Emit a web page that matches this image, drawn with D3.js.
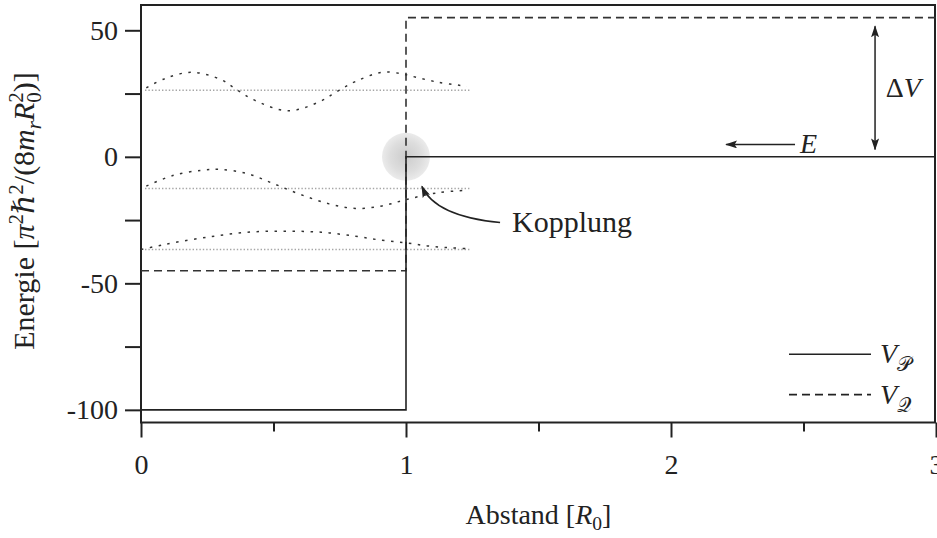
<!DOCTYPE html>
<html>
<head>
<meta charset="utf-8">
<script src="https://cdn.jsdelivr.net/npm/d3@7"></script>
<style>
  body { margin: 0; background: #fff; }
  svg { display: block; font-family: "Liberation Serif", "DejaVu Serif", serif; }
</style>
</head>
<body>
<svg id="chart" width="937" height="538"></svg>
<script>
// potentials (step at R0 = 1)
const potX = [0, 1, 1, 3];
const vP = [-100, -100, 0, 0];
const vQ = [-45, -45, 55, 55];

// bound state levels and their wave functions
const levels = [-36.6, -12.5, 26.3];
const levelSpan = [0, 1.24];

const wave1X = [0, 0.06, 0.12, 0.26, 0.40, 0.54, 0.68, 0.81, 0.91, 1.0, 1.08, 1.16, 1.24];
const wave1Y = [-36.6, -35.3, -34.0, -31.6, -29.8, -29.4, -29.8, -31.4, -33.0, -34.0, -35.2, -35.9, -36.3];

const wave2X = [0.02, 0.12, 0.23, 0.30, 0.40, 0.50, 0.60, 0.71, 0.81, 0.91, 1.0, 1.12, 1.23];
const wave2Y = [-11.6, -7.4, -5.3, -5.0, -6.6, -10.6, -14.8, -18.6, -20.4, -19.4, -16.9, -14.2, -13.2];

const wave3X = [0.02, 0.09, 0.19, 0.30, 0.36, 0.43, 0.555, 0.67, 0.74, 0.81, 0.91, 0.98, 1.02, 1.12, 1.23];
const wave3Y = [27.3, 30.9, 33.4, 30.6, 26.6, 22.3, 18.2, 21.6, 25.8, 29.8, 33.4, 32.9, 31.9, 29.5, 27.9];

const xMajor = [0, 1, 2, 3];
const xMinor = [0.5, 1.5, 2.5];
const yTicks = [-100, -75, -50, -25, 0, 25, 50];
const yLabelled = [-100, -50, 0, 50];

const svg = d3.select("#chart");
const x = d3.scaleLinear().domain([0, 3]).range([141, 936]);
const y = d3.scaleLinear().domain([-105, 60]).range([422.5, 5]);

const ink = "#222";

// arrow head
const defs = svg.append("defs");
defs.append("marker")
    .attr("id", "head")
    .attr("viewBox", "0 0 12 8")
    .attr("refX", 11).attr("refY", 4)
    .attr("markerWidth", 12).attr("markerHeight", 8)
    .attr("markerUnits", "userSpaceOnUse")
    .attr("orient", "auto-start-reverse")
  .append("path")
    .attr("d", "M0,0 L12,4 L0,8 L2.5,4 Z")
    .attr("fill", ink);

const grad = defs.append("radialGradient").attr("id", "glow");
grad.append("stop").attr("offset", "0%").attr("stop-color", "#cccccc");
grad.append("stop").attr("offset", "65%").attr("stop-color", "#dddddd");
grad.append("stop").attr("offset", "100%").attr("stop-color", "#ebebeb");

// coupling marker
svg.append("circle")
    .attr("cx", x(1)).attr("cy", y(0)).attr("r", 24)
    .attr("fill", "url(#glow)");

// axes
const yAxis = d3.axisLeft(y)
    .tickValues(yTicks)
    .tickSize(16)
    .tickPadding(7)
    .tickFormat(d => yLabelled.includes(d) ? String(d) : "");
svg.append("g")
    .attr("transform", `translate(${x(0)},0)`)
    .call(yAxis)
    .call(g => g.select(".domain").remove())
    .call(g => g.selectAll("line").attr("stroke", ink).attr("stroke-width", 2))
    .call(g => g.selectAll("text").attr("font-size", 28).attr("fill", ink).attr("font-family", "Liberation Serif"));

const xAxis = d3.axisBottom(x)
    .tickValues(xMajor)
    .tickSize(15)
    .tickPadding(17)
    .tickFormat(d3.format("d"));
svg.append("g")
    .attr("transform", `translate(0,${y(-105)})`)
    .call(xAxis)
    .call(g => g.select(".domain").remove())
    .call(g => g.selectAll("line").attr("stroke", ink).attr("stroke-width", 2))
    .call(g => g.selectAll("text").attr("font-size", 28).attr("fill", ink).attr("font-family", "Liberation Serif"));

svg.append("g")
    .attr("transform", `translate(0,${y(-105)})`)
    .call(d3.axisBottom(x).tickValues(xMinor).tickSize(9).tickFormat(""))
    .call(g => g.select(".domain").remove())
    .call(g => g.selectAll("line").attr("stroke", ink).attr("stroke-width", 2));

// frame
svg.append("rect")
    .attr("x", x(0)).attr("y", y(60))
    .attr("width", x(3) - x(0) - 1).attr("height", y(-105) - y(60))
    .attr("fill", "none").attr("stroke", ink).attr("stroke-width", 2);

// level lines (light gray dots)
svg.append("g").selectAll("line")
  .data(levels)
  .join("line")
    .attr("x1", x(levelSpan[0]) + 4).attr("x2", x(levelSpan[1]))
    .attr("y1", d => y(d)).attr("y2", d => y(d))
    .attr("stroke", "#a6a6a6").attr("stroke-width", 1.4)
    .attr("stroke-dasharray", "1.4,2");

// wave functions
const waveLine = d3.line()
    .x(d => x(d[0])).y(d => y(d[1]))
    .curve(d3.curveCatmullRom.alpha(0.5));
const waves = [
  d3.zip(wave1X, wave1Y),
  d3.zip(wave2X, wave2Y),
  d3.zip(wave3X, wave3Y)
];
svg.append("g").selectAll("path")
  .data(waves)
  .join("path")
    .attr("d", waveLine)
    .attr("fill", "none")
    .attr("stroke", "#333").attr("stroke-width", 1.5)
    .attr("stroke-dasharray", "2.5,6.5");

// potentials
const potLine = d3.line().x(d => x(d[0])).y(d => y(d[1]));
svg.append("path")
    .attr("d", potLine(d3.zip(potX, vQ)))
    .attr("fill", "none").attr("stroke", "#333").attr("stroke-width", 1.6)
    .attr("stroke-dasharray", "8,5");
svg.append("path")
    .attr("d", potLine(d3.zip(potX, vP)))
    .attr("fill", "none").attr("stroke", "#222").attr("stroke-width", 1.6);

// math text helper: parts = [text, {italic, shift, small, dx}]
function mathText(sel, parts, size) {
  let cur = 0;
  parts.forEach(p => {
    const shift = (p.shift || 0) * size;
    const t = sel.append("tspan")
        .attr("dy", shift - cur)
        .attr("font-size", p.small ? size * 0.7 : size)
        .attr("font-style", p.italic ? "italic" : "normal")
        .text(p.t);
    if (p.dx) t.attr("dx", p.dx);
    cur = shift;
  });
}

// annotations
const ann = svg.append("g").attr("fill", ink);

// delta V
svg.append("line")
    .attr("x1", x(2.77)).attr("x2", x(2.77))
    .attr("y1", y(51.6)).attr("y2", y(2.9))
    .attr("stroke", ink).attr("stroke-width", 1.5)
    .attr("marker-start", "url(#head)").attr("marker-end", "url(#head)");
mathText(ann.append("text").attr("x", x(2.81)).attr("y", y(23.5)), [
  {t: "Δ"}, {t: "V", italic: true}
], 28);

// E arrow
svg.append("line")
    .attr("x1", x(2.468)).attr("x2", x(2.208))
    .attr("y1", y(4.9)).attr("y2", y(4.9))
    .attr("stroke", ink).attr("stroke-width", 1.5)
    .attr("marker-end", "url(#head)");
ann.append("text")
    .attr("x", x(2.487)).attr("y", y(1.6))
    .attr("font-size", 28).attr("font-style", "italic")
    .text("E");

// Kopplung
svg.append("path")
    .attr("d", `M${x(1.355)},${y(-26)} Q${x(1.11)},${y(-23.5)} ${x(1.06)},${y(-11.7)}`)
    .attr("fill", "none").attr("stroke", ink).attr("stroke-width", 1.5)
    .attr("marker-end", "url(#head)");
ann.append("text")
    .attr("x", x(1.40)).attr("y", y(-29.6))
    .attr("font-size", 30)
    .text("Kopplung");

// legend
const legend = svg.append("g");
const legendRows = [
  {dash: null, sub: "𝒫", val: -78},
  {dash: "8,5", sub: "𝒬", val: -94}
];
legendRows.forEach(r => {
  legend.append("line")
      .attr("x1", 789).attr("x2", 871)
      .attr("y1", y(r.val)).attr("y2", y(r.val))
      .attr("stroke", "#222").attr("stroke-width", 1.6)
      .attr("stroke-dasharray", r.dash);
  mathText(legend.append("text").attr("x", 880).attr("y", y(r.val) + 9).attr("fill", ink), [
    {t: "V", italic: true}, {t: r.sub, shift: 0.28, small: true}
  ], 28);
});

// axis titles
svg.append("text")
    .attr("x", x(1.5)).attr("y", 524)
    .attr("text-anchor", "middle")
    .attr("font-size", 28).attr("fill", ink)
    .call(t => mathText(t, [
      {t: "Abstand ["}, {t: "R", italic: true}, {t: "0", shift: 0.22, small: true}, {t: "]"}
    ], 28));

svg.append("text")
    .attr("transform", `translate(34,211) rotate(-90)`)
    .attr("text-anchor", "middle")
    .attr("font-size", 30).attr("fill", ink)
    .call(t => mathText(t, [
      {t: "Energie ["}, {t: "π", italic: true}, {t: "2", shift: -0.38, small: true},
      {t: "ℏ", italic: true}, {t: "2", shift: -0.38, small: true},
      {t: "/(8"}, {t: "m", italic: true}, {t: "r", italic: true, small: true, shift: 0.22},
      {t: "R", italic: true}, {t: "0", shift: 0.22, small: true},
      {t: "2", shift: -0.38, small: true, dx: -10.5}, {t: ")]"}
    ], 30));
</script>
</body>
</html>
